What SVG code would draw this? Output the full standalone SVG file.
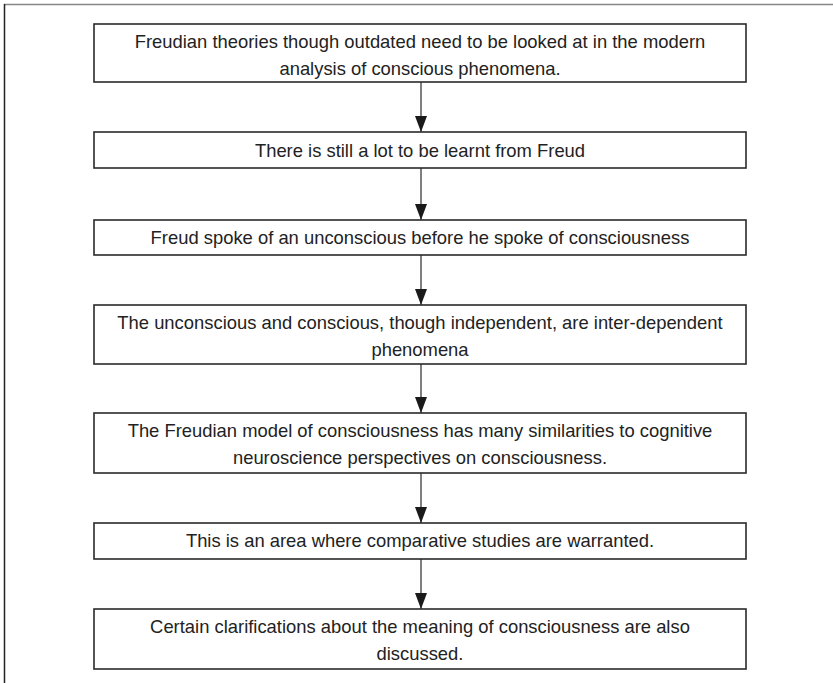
<svg xmlns="http://www.w3.org/2000/svg" width="833" height="683" viewBox="0 0 833 683">
<defs>
<marker id="ah" markerUnits="userSpaceOnUse" markerWidth="16" markerHeight="12" viewBox="0 0 16 12" refX="16" refY="6" orient="auto">
<path d="M0,0 L16,6 L0,12 Z" fill="#1a1a1a"/>
</marker>
</defs>
<style>
.box{fill:#fff;stroke:#2a2a2a;stroke-width:1.6}
.t{font-family:"Liberation Sans",Arial,sans-serif;font-size:18.4px;fill:#222;text-anchor:middle}
.c{stroke:#555;stroke-width:1.5;fill:none}
</style>
<rect width="833" height="683" fill="#fff"/>
<line x1="4" y1="4.5" x2="833" y2="4.5" stroke="#888" stroke-width="1.5"/>
<line x1="4.5" y1="4" x2="4.5" y2="683" stroke="#222" stroke-width="1.5"/>
<g id="connectors">
<line class="c" x1="421" y1="82" x2="421" y2="132" marker-end="url(#ah)"/>
<line class="c" x1="421" y1="168" x2="421" y2="220" marker-end="url(#ah)"/>
<line class="c" x1="421" y1="255" x2="421" y2="305" marker-end="url(#ah)"/>
<line class="c" x1="421" y1="364" x2="421" y2="413" marker-end="url(#ah)"/>
<line class="c" x1="421" y1="473" x2="421" y2="523" marker-end="url(#ah)"/>
<line class="c" x1="421" y1="559" x2="421" y2="609" marker-end="url(#ah)"/>
</g>
<g id="n1"><rect class="box" x="94" y="24" width="652" height="58"/>
<text class="t" x="420" y="48">Freudian theories though outdated need to be looked at in the modern</text>
<text class="t" x="420" y="75">analysis of conscious phenomena.</text></g>
<g id="n2"><rect class="box" x="94" y="132" width="652" height="36"/>
<text class="t" x="420" y="157">There is still a lot to be learnt from Freud</text></g>
<g id="n3"><rect class="box" x="94" y="220" width="652" height="35"/>
<text class="t" x="420" y="244">Freud spoke of an unconscious before he spoke of consciousness</text></g>
<g id="n4"><rect class="box" x="94" y="305" width="652" height="59"/>
<text class="t" x="420" y="329">The unconscious and conscious, though independent, are inter-dependent</text>
<text class="t" x="420" y="356">phenomena</text></g>
<g id="n5"><rect class="box" x="94" y="413" width="652" height="60"/>
<text class="t" x="420" y="437">The Freudian model of consciousness has many similarities to cognitive</text>
<text class="t" x="420" y="464">neuroscience perspectives on consciousness.</text></g>
<g id="n6"><rect class="box" x="94" y="523" width="652" height="36"/>
<text class="t" x="420" y="547">This is an area where comparative studies are warranted.</text></g>
<g id="n7"><rect class="box" x="94" y="609" width="652" height="60"/>
<text class="t" x="420" y="633">Certain clarifications about the meaning of consciousness are also</text>
<text class="t" x="420" y="660">discussed.</text></g>
</svg>
